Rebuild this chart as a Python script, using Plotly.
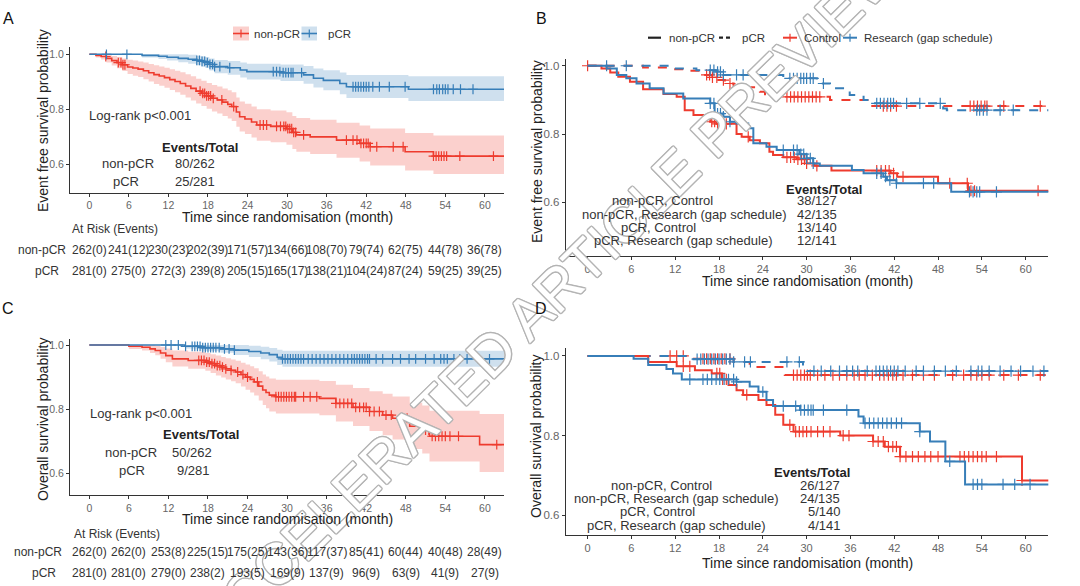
import numpy as np
import plotly.graph_objects as go

W, H = 1080, 586
T_END = 63.2
RED = '#EE3B2E'
BLUE = '#377EB8'
RED_FILL = 'rgba(238,59,46,0.24)'
BLUE_FILL = 'rgba(55,126,184,0.24)'
FONT = 'Liberation Sans'

# ---------------- Panel A : EFS by pCR ----------------
a_np_t = [0, 1.0, 1.8, 2.6, 3.4, 4.2, 5.0, 5.8, 6.6, 7.4, 8.2, 9.0, 9.8, 10.6, 11.4, 12.2, 13.0, 13.8, 14.6, 15.4,
          16.2, 17.0, 17.8, 18.6, 19.4, 20.2, 21.0, 21.6, 22.3, 22.8, 23.6, 24.6, 25.4, 27.5, 29.9, 30.8, 31.4, 33.5,
          37.5, 41.0, 42.6, 47.9, 52.2]
a_np_s = [1.0, 0.996, 0.992, 0.985, 0.977, 0.970, 0.962, 0.954, 0.950, 0.946, 0.940, 0.933, 0.926, 0.921, 0.915,
          0.908, 0.901, 0.894, 0.885, 0.876, 0.866, 0.858, 0.849, 0.840, 0.834, 0.826, 0.818, 0.81, 0.79, 0.773,
          0.765, 0.754, 0.743, 0.738, 0.730, 0.716, 0.707, 0.700, 0.688, 0.676, 0.664, 0.646, 0.630]
a_np_hi = [1.0, 1.0, 1.0, 0.998, 0.994, 0.99, 0.985, 0.98, 0.977, 0.974, 0.97, 0.965, 0.96, 0.956, 0.951, 0.946,
           0.94, 0.935, 0.927, 0.92, 0.911, 0.904, 0.896, 0.888, 0.883, 0.876, 0.869, 0.862, 0.843, 0.828, 0.82,
           0.81, 0.80, 0.796, 0.789, 0.776, 0.768, 0.762, 0.751, 0.741, 0.73, 0.714, 0.705]
a_np_lo = [1.0, 0.988, 0.981, 0.970, 0.959, 0.949, 0.939, 0.928, 0.922, 0.917, 0.909, 0.901, 0.892, 0.886, 0.878,
           0.870, 0.862, 0.853, 0.843, 0.832, 0.821, 0.812, 0.802, 0.792, 0.785, 0.776, 0.767, 0.758, 0.737, 0.719,
           0.71, 0.698, 0.686, 0.68, 0.671, 0.656, 0.646, 0.638, 0.624, 0.61, 0.596, 0.578, 0.565]
a_np_c = [2.5, 4.4, 4.8, 5.1, 5.4, 16.8, 17.2, 17.5, 17.8, 18.1, 18.4, 18.8, 20.1, 21.9, 25.9, 26.4, 26.9, 28.4, 29.0,
          29.5, 29.8, 30.1, 30.4, 30.7, 31.0, 31.3, 32.5, 39.0, 40.0, 40.6, 41.2, 41.6, 42.0, 42.3, 42.6, 43.6, 46.1,
          47.6, 52.2, 52.6, 53.0, 53.4, 53.8, 54.2, 56.2, 61.3]

a_p_t = [0, 8.0, 10.5, 11.8, 13.5, 15.0, 16.3, 17.0, 17.6, 18.2, 19.0, 21.0, 22.9, 23.9, 29.0, 32.5, 34.0, 35.5,
         38.0, 39.0, 48.4]
a_p_s = [1.0, 0.996, 0.993, 0.989, 0.985, 0.982, 0.978, 0.974, 0.970, 0.963, 0.955, 0.951, 0.943, 0.937, 0.933,
         0.925, 0.913, 0.905, 0.894, 0.882, 0.873]
a_p_hi = [1.0, 1.0, 1.0, 1.0, 1.0, 0.998, 0.995, 0.993, 0.99, 0.985, 0.979, 0.976, 0.97, 0.966, 0.963, 0.957,
          0.948, 0.942, 0.934, 0.925, 0.92]
a_p_lo = [1.0, 0.988, 0.983, 0.977, 0.971, 0.966, 0.96, 0.955, 0.95, 0.941, 0.931, 0.926, 0.916, 0.908, 0.903,
          0.893, 0.879, 0.869, 0.855, 0.841, 0.83]
a_p_c = [2.6, 5.7, 16.3, 16.7, 17.1, 17.5, 17.9, 18.3, 18.7, 19.0, 19.8, 21.3, 27.9, 28.4, 28.9, 29.4, 29.8, 30.2,
         30.6, 30.9, 32.2, 40.0, 40.4, 40.8, 41.2, 41.6, 42.0, 42.4, 43.0, 44.0, 45.5, 47.9, 52.2, 52.7, 53.1, 53.6,
         54.0, 54.4, 55.2, 56.3, 58.2]

# ---------------- Panel C : OS by pCR ----------------
c_np_t = [0, 6.0, 8.0, 9.2, 10.0, 10.8, 11.6, 12.6, 15.0, 17.6, 18.4, 19.2, 20.0, 20.7, 21.5, 22.2, 23.0, 23.7,
          24.4, 25.0, 25.7, 26.3, 26.8, 27.3, 28.3, 34.9, 37.4, 40.0, 42.5, 44.5, 46.0, 48.6, 50.5, 51.6, 59.2]
c_np_s = [1.0, 0.996, 0.993, 0.988, 0.983, 0.975, 0.967, 0.957, 0.952, 0.947, 0.942, 0.936, 0.931, 0.926, 0.921,
          0.916, 0.908, 0.900, 0.893, 0.885, 0.872, 0.860, 0.852, 0.844, 0.839, 0.834, 0.818, 0.806, 0.793, 0.782,
          0.772, 0.747, 0.735, 0.716, 0.690]
c_np_hi = [1.0, 1.0, 1.0, 1.0, 0.998, 0.994, 0.989, 0.983, 0.979, 0.975, 0.971, 0.967, 0.963, 0.959, 0.955, 0.951,
           0.945, 0.939, 0.934, 0.928, 0.918, 0.908, 0.902, 0.896, 0.892, 0.888, 0.876, 0.866, 0.856, 0.848, 0.84,
           0.82, 0.812, 0.795, 0.785]
c_np_lo = [1.0, 0.988, 0.983, 0.975, 0.968, 0.957, 0.946, 0.933, 0.926, 0.92, 0.913, 0.905, 0.899, 0.893, 0.887,
           0.881, 0.871, 0.861, 0.852, 0.843, 0.827, 0.813, 0.803, 0.793, 0.787, 0.781, 0.762, 0.748, 0.732, 0.719,
           0.706, 0.676, 0.662, 0.637, 0.605]
c_np_c = [16.6, 17.0, 17.4, 17.8, 18.2, 18.6, 19.0, 19.4, 19.8, 20.2, 20.7, 21.5, 22.5, 23.3, 24.0, 25.5, 28.3, 28.7,
          29.1, 29.5, 29.9, 30.3, 30.7, 31.1, 31.3, 32.5, 33.5, 34.5, 37.4, 38.0, 38.6, 39.2, 39.8, 40.4, 41.0, 41.6,
          42.0, 42.5, 43.2, 44.0, 45.0, 45.8, 47.5, 48.2, 51.0, 51.5, 52.0, 52.5, 53.0, 53.5, 54.0, 54.7, 56.0, 61.8]

c_p_t = [0, 14.5, 17.0, 19.9, 22.0, 24.2, 26.0, 27.3, 28.5, 29.3]
c_p_s = [1.0, 0.996, 0.992, 0.988, 0.984, 0.98, 0.975, 0.97, 0.962, 0.957]
c_p_hi = [1.0, 1.0, 1.0, 1.0, 1.0, 0.998, 0.995, 0.991, 0.985, 0.982]
c_p_lo = [1.0, 0.989, 0.982, 0.976, 0.969, 0.963, 0.956, 0.949, 0.938, 0.932]
c_p_c = [11.6, 12.4, 13.5, 14.6, 15.6, 16.0, 16.4, 16.8, 17.2, 17.6, 18.0, 18.4, 18.8, 19.2, 19.7, 20.5, 21.2, 22.0,
         29.3, 29.7, 30.1, 30.5, 30.9, 31.3, 31.7, 32.1, 32.5, 33.2, 33.8, 34.4, 35.0, 35.6, 36.2, 36.8, 37.4, 38.0,
         38.6, 39.2, 39.8, 40.2, 40.6, 41.0, 41.4, 41.8, 42.2, 42.5, 43.5, 44.5, 46.0, 47.2, 48.5, 49.5, 51.0, 52.3,
         53.3, 53.8, 54.3, 55.3, 56.2, 57.3, 59.0, 60.7]

# ---------------- Panel B : EFS by pCR x arm ----------------
b_npc_t = [0, 1.9, 3.1, 4.2, 5.8, 7.6, 10.4, 12.2, 13.3, 14.5, 15.8, 16.8, 17.7, 20.4, 21.1, 22.2, 23.6, 24.9, 25.4,
           26.8, 28.6, 30.0, 31.1, 33.4, 41.5, 42.4, 48.0, 52.1]
b_npc_s = [1.0, 0.992, 0.980, 0.968, 0.953, 0.931, 0.917, 0.909, 0.870, 0.856, 0.846, 0.836, 0.830, 0.800, 0.792,
           0.782, 0.773, 0.748, 0.739, 0.732, 0.726, 0.714, 0.707, 0.693, 0.685, 0.675, 0.656, 0.634]
b_npc_c = [17.0, 17.4, 17.8, 18.2, 18.6, 19.0, 22.0, 27.3, 27.8, 28.3, 28.8, 29.3, 29.7, 30.0, 31.4, 39.6, 40.2, 40.8,
           41.3, 41.9, 43.2, 49.6, 52.0, 52.5, 53.0, 61.7]
b_npr_t = [0, 2.6, 4.0, 5.3, 6.7, 8.5, 10.4, 13.1, 16.8, 17.4, 18.6, 19.5, 20.4, 22.0, 22.7, 24.5, 25.9, 29.0, 30.0,
           30.9, 31.8, 36.2, 37.8, 40.5, 41.0, 42.3, 49.8]
b_npr_s = [1.0, 0.992, 0.973, 0.963, 0.948, 0.934, 0.919, 0.904, 0.89, 0.86, 0.851, 0.836, 0.831, 0.817, 0.773,
           0.763, 0.753, 0.741, 0.729, 0.714, 0.707, 0.695, 0.685, 0.675, 0.665, 0.656, 0.631]
b_npr_c = [16.8, 17.3, 17.8, 18.2, 18.6, 19.5, 26.8, 28.2, 28.7, 29.2, 29.6, 30.0, 30.5, 30.9, 39.6, 40.2, 40.8,
           41.4, 42.3, 46.0, 47.4, 52.3, 52.8, 53.3, 53.7, 56.0]
b_pc_t = [0, 7.6, 11.7, 13.6, 15.6, 17.0, 17.9, 18.8, 20.0, 23.6, 24.3, 33.2, 38.7]
b_pc_s = [1.0, 0.995, 0.99, 0.985, 0.973, 0.966, 0.958, 0.948, 0.937, 0.924, 0.909, 0.9, 0.882]
b_pc_c = [0.0, 16.3, 16.7, 17.1, 17.7, 18.6, 19.5, 27.3, 27.8, 28.3, 28.8, 29.3, 29.8, 30.3, 30.8, 31.3, 31.8, 40.5,
          41.0, 41.5, 42.3, 52.4, 52.9, 53.4, 53.9, 54.4, 54.7, 57.0, 62.0]
b_pr_t = [0, 11.7, 14.9, 17.7, 18.6, 26.8, 31.4, 33.2, 35.9, 37.8, 38.7, 48.7, 49.2]
b_pr_s = [1.0, 0.992, 0.987, 0.982, 0.973, 0.963, 0.948, 0.934, 0.914, 0.9, 0.89, 0.875, 0.87]
b_pr_c = [2.6, 5.3, 16.8, 17.3, 17.8, 18.2, 18.6, 20.4, 21.3, 27.7, 28.2, 28.7, 29.2, 29.6, 30.0, 30.5, 30.9, 32.3,
          39.6, 40.1, 40.6, 41.1, 41.5, 41.9, 43.7, 45.5, 48.3, 53.3, 53.7, 54.2, 54.7, 56.5, 58.3]

# ---------------- Panel D : OS by pCR x arm ----------------
d_npc_t = [0, 8.3, 12.2, 14.7, 17.0, 18.4, 19.3, 20.4, 21.3, 23.4, 24.5, 25.7, 26.8, 28.2, 34.6, 39.1, 40.7, 42.8, 59.5]
d_npc_s = [1.0, 0.985, 0.974, 0.964, 0.956, 0.941, 0.927, 0.914, 0.902, 0.889, 0.877, 0.852, 0.827, 0.81, 0.8,
           0.785, 0.772, 0.747, 0.687]
d_npc_c = [13.1, 14.0, 17.7, 18.1, 18.5, 19.0, 21.8, 27.7, 28.5, 29.0, 29.5, 30.0, 30.6, 31.5, 32.3, 33.2, 35.0, 35.8,
           39.1, 39.8, 40.5, 41.2, 41.8, 42.3, 42.8, 43.6, 44.5, 45.3, 46.2, 47.0, 48.0, 51.0, 51.6, 52.2, 52.8, 53.4,
           54.0, 54.6, 56.0, 59.5]
d_npr_t = [0, 6.3, 8.3, 10.8, 11.7, 12.9, 20.4, 22.2, 23.4, 24.5, 25.4, 29.1, 37.1, 37.8, 45.5, 46.9, 49.0, 51.7]
d_npr_s = [1.0, 0.993, 0.977, 0.967, 0.956, 0.941, 0.935, 0.923, 0.91, 0.889, 0.874, 0.864, 0.848, 0.831, 0.81,
           0.785, 0.735, 0.677]
d_npr_c = [14.0, 15.8, 16.4, 17.0, 17.6, 18.1, 18.7, 19.3, 20.0, 20.4, 24.0, 26.8, 28.5, 29.2, 29.7, 30.2, 30.6, 30.9,
           32.3, 35.5, 38.0, 38.6, 39.2, 39.8, 40.4, 41.0, 41.6, 42.3, 43.0, 45.5, 49.6, 52.8, 53.4, 54.0, 56.9, 58.5,
           60.6]
d_pc_t = [0, 13.6, 20.0, 22.2, 27.0]
d_pc_s = [1.0, 0.993, 0.985, 0.972, 0.952]
d_pc_c = [11.3, 12.2, 13.1, 15.8, 16.3, 16.8, 17.3, 17.8, 18.3, 18.8, 19.5, 28.2, 28.7, 29.2, 29.7, 30.1, 30.5, 31.5,
          32.5, 33.6, 34.5, 35.5, 36.5, 37.2, 38.0, 39.0, 40.0, 40.6, 41.2, 41.8, 42.3, 43.2, 44.5, 46.0, 47.5, 50.0,
          51.5, 52.5, 53.3, 54.0, 55.0, 57.0, 59.0, 62.0]
d_pr_t = [0, 14.5, 20.0, 29.5, 30.0]
d_pr_s = [1.0, 0.992, 0.985, 0.972, 0.962]
d_pr_c = [15.0, 15.5, 16.0, 16.5, 17.0, 17.5, 18.0, 18.5, 19.0, 19.5, 20.0, 21.5, 22.3, 27.3, 29.0, 31.0, 32.0, 33.3,
          34.5, 35.5, 36.3, 37.0, 38.3, 39.5, 40.0, 40.5, 41.0, 41.5, 42.0, 42.5, 43.5, 45.0, 46.0, 47.5, 49.0, 50.5,
          52.5, 53.5, 54.0, 55.0, 56.5, 58.0, 59.3, 61.0, 62.5]

# ---------------- Tables ----------------
risk_times = [0, 6, 12, 18, 24, 30, 36, 42, 48, 54, 60]
a_risk_np_n = [262, 241, 230, 202, 171, 134, 108, 79, 62, 44, 36]
a_risk_np_e = [0, 12, 23, 39, 57, 66, 70, 74, 75, 78, 78]
a_risk_p_n = [281, 275, 272, 239, 205, 165, 138, 104, 87, 59, 39]
a_risk_p_e = [0, 0, 3, 8, 15, 17, 21, 24, 24, 25, 25]
c_risk_np_n = [262, 262, 253, 225, 175, 143, 117, 85, 60, 40, 28]
c_risk_np_e = [0, 0, 8, 15, 25, 36, 37, 41, 44, 48, 49]
c_risk_p_n = [281, 281, 279, 238, 193, 169, 137, 96, 63, 41, 27]
c_risk_p_e = [0, 0, 0, 2, 5, 9, 9, 9, 9, 9, 9]

ab_groups = ['non-pCR', 'pCR']
a_events = ['80/262', '25/281']
c_events = ['50/262', '9/281']
bd_groups = ['non-pCR, Control', 'non-pCR, Research (gap schedule)', 'pCR, Control', 'pCR, Research (gap schedule)']
b_events = ['38/127', '42/135', '13/140', '12/141']
d_events = ['26/127', '24/135', '5/140', '4/141']

fig = go.Figure()


def band(xa, ya, t, lo, hi, fill):
    tx = list(t) + [T_END]
    fig.add_trace(go.Scatter(x=tx, y=list(lo) + [lo[-1]], mode='lines', line=dict(width=0, shape='hv'),
                             xaxis=xa, yaxis=ya, showlegend=False, hoverinfo='skip'))
    fig.add_trace(go.Scatter(x=tx, y=list(hi) + [hi[-1]], mode='lines', line=dict(width=0, shape='hv'),
                             fill='tonexty', fillcolor=fill, xaxis=xa, yaxis=ya, showlegend=False,
                             hoverinfo='skip'))


def km(xa, ya, t, s, cens, color, dash='solid', width=1.6, msize=8):
    tx = list(t) + [T_END]
    fig.add_trace(go.Scatter(x=tx, y=list(s) + [s[-1]], mode='lines',
                             line=dict(color=color, width=width, dash=dash, shape='hv'),
                             xaxis=xa, yaxis=ya, showlegend=False))
    ta, sa = np.array(t), np.array(s)
    idx = np.searchsorted(ta, np.array(cens), side='right') - 1
    fig.add_trace(go.Scatter(x=cens, y=sa[idx], mode='markers',
                             marker=dict(symbol='cross-thin', size=msize, color=color,
                                         line=dict(color=color, width=1.2)),
                             xaxis=xa, yaxis=ya, showlegend=False))


# A
band('x', 'y', a_np_t, a_np_lo, a_np_hi, RED_FILL)
band('x', 'y', a_p_t, a_p_lo, a_p_hi, BLUE_FILL)
km('x', 'y', a_np_t, a_np_s, a_np_c, RED, msize=7)
km('x', 'y', a_p_t, a_p_s, a_p_c, BLUE, msize=7)
# C
band('x3', 'y3', c_np_t, c_np_lo, c_np_hi, RED_FILL)
band('x3', 'y3', c_p_t, c_p_lo, c_p_hi, BLUE_FILL)
km('x3', 'y3', c_np_t, c_np_s, c_np_c, RED, msize=7)
km('x3', 'y3', c_p_t, c_p_s, c_p_c, BLUE, msize=7)
# B
km('x2', 'y2', b_pc_t, b_pc_s, b_pc_c, RED, dash='dash', width=2)
km('x2', 'y2', b_pr_t, b_pr_s, b_pr_c, BLUE, dash='dash', width=2)
km('x2', 'y2', b_npc_t, b_npc_s, b_npc_c, RED, width=2)
km('x2', 'y2', b_npr_t, b_npr_s, b_npr_c, BLUE, width=2)
# D
km('x4', 'y4', d_pc_t, d_pc_s, d_pc_c, RED, dash='dash', width=2)
km('x4', 'y4', d_pr_t, d_pr_s, d_pr_c, BLUE, dash='dash', width=2)
km('x4', 'y4', d_npc_t, d_npc_s, d_npc_c, RED, width=2)
km('x4', 'y4', d_npr_t, d_npr_s, d_npr_c, BLUE, width=2)


def px(x):
    return x / W


def py(y):
    return 1 - y / H


def xax(dom, rng, anchor, fs):
    return dict(domain=[px(dom[0]), px(dom[1])], range=rng, anchor=anchor, tickvals=risk_times,
                showline=True, linecolor='#333', linewidth=1, ticks='outside', ticklen=3,
                tickcolor='#333', showgrid=False, zeroline=False,
                tickfont=dict(size=fs, color='#666', family=FONT))


def yax(dom, rng, anchor, fs):
    return dict(domain=[py(dom[1]), py(dom[0])], range=rng, anchor=anchor, tickvals=[0.6, 0.8, 1.0],
                ticktext=['0.6', '0.8', '1.0'], showline=True, linecolor='#333', linewidth=1,
                ticks='outside', ticklen=3, tickcolor='#333', showgrid=False, zeroline=False,
                tickfont=dict(size=fs, color='#666', family=FONT))


ann = []

# watermark first so that every other text is drawn above it
sh = '#b4b4b4'
shadow = ', '.join(f'{dx}px {dy}px 0 {sh}' for dx, dy in
                   [(1.4, 0), (-1.4, 0), (0, 1.4), (0, -1.4), (1, 1), (-1, -1), (1, -1), (-1, 1)])
ann.append(dict(x=px(547), y=py(297), xref='paper', yref='paper', text='ACCELERATED ARTICLE PREVIEW',
                showarrow=False, textangle=-44.5, xanchor='center', yanchor='middle',
                font=dict(size=58, color='white', family=FONT, shadow=shadow)))


def t(x, y, text, size=13, color='#333', xa='left', bold=False, angle=0, xref='paper'):
    ann.append(dict(x=px(x) if xref == 'paper' else x, y=py(y), xref=xref, yref='paper', text=text,
                    showarrow=False, xanchor=xa, yanchor='middle', textangle=angle,
                    font=dict(size=size, color=color, family=FONT, weight='bold' if bold else 'normal')))


# panel letters
for lx, ly, lab in [(8, 18, 'A'), (541, 18, 'B'), (8, 308, 'C'), (541, 308, 'D')]:
    t(lx, ly, lab, size=16, color='#111', xa='center')

# axis titles
t(43, 121, 'Event free survival probability', 14, '#222', 'center', angle=-90)
t(287, 216.5, 'Time since randomisation (month)', 14, '#222', 'center')
t(537, 152, 'Event free survival probability', 14, '#222', 'center', angle=-90)
t(807, 280.5, 'Time since randomisation (month)', 14, '#222', 'center')
t(43, 420, 'Overall survival probability', 14, '#222', 'center', angle=-90)
t(287, 519, 'Time since randomisation (month)', 14, '#222', 'center')
t(536, 437, 'Overall survival probability', 14, '#222', 'center', angle=-90)
t(807, 562.5, 'Time since randomisation (month)', 14, '#222', 'center')

# A/C in-plot texts
t(87, 115, 'Log-rank p<0.001', 13)
t(200, 147.5, 'Events/Total', 13, '#222', 'center', bold=True)
t(128, 163.5, ab_groups[0], 13, '#333', 'center')
t(126, 181, ab_groups[1], 13, '#333', 'center')
t(194.5, 163.5, a_events[0], 13, '#333', 'center')
t(194.5, 181, a_events[1], 13, '#333', 'center')

t(88, 413, 'Log-rank p<0.001', 13)
t(201, 434, 'Events/Total', 13, '#222', 'center', bold=True)
t(131, 452.5, ab_groups[0], 13, '#333', 'center')
t(131.5, 470, ab_groups[1], 13, '#333', 'center')
t(192.5, 452.5, c_events[0], 13, '#333', 'center')
t(193.5, 470, c_events[1], 13, '#333', 'center')

# B/D events tables
b_lab_x = [662, 684, 658, 682.5]
b_row_y = [200.7, 214, 227.3, 240]
t(824, 189, 'Events/Total', 13, '#222', 'center', bold=True)
for i in range(4):
    t(b_lab_x[i], b_row_y[i], bd_groups[i], 13, '#333', 'center')
    t(817, b_row_y[i], b_events[i], 13, '#333', 'center')
d_lab_x = [661.7, 676.8, 657.5, 675.7]
d_val_x = [820, 820, 824.7, 824.7]
d_row_y = [485, 498.3, 511.5, 525.3]
t(812, 472.7, 'Events/Total', 13, '#222', 'center', bold=True)
for i in range(4):
    t(d_lab_x[i], d_row_y[i], bd_groups[i], 13, '#333', 'center')
    t(d_val_x[i], d_row_y[i], d_events[i], 13, '#333', 'center')

# risk tables
t(70, 229, 'At Risk (Events)', 12, '#333')
t(68, 250, ab_groups[0], 12, '#333', 'right')
t(61, 271, ab_groups[1], 12, '#333', 'right')
for i, rt in enumerate(risk_times):
    t(rt, 250, f'{a_risk_np_n[i]}({a_risk_np_e[i]})', 12, '#333', 'center', xref='x')
    t(rt, 271, f'{a_risk_p_n[i]}({a_risk_p_e[i]})', 12, '#333', 'center', xref='x')
t(72, 533.5, 'At Risk (Events)', 12, '#333')
t(64, 552, ab_groups[0], 12, '#333', 'right')
t(58, 573, ab_groups[1], 12, '#333', 'right')
for i, rt in enumerate(risk_times):
    t(rt, 552, f'{c_risk_np_n[i]}({c_risk_np_e[i]})', 12, '#333', 'center', xref='x3')
    t(rt, 573, f'{c_risk_p_n[i]}({c_risk_p_e[i]})', 12, '#333', 'center', xref='x3')

# legends (manual)
shapes = []


def rect(x0, y0, x1, y1, fill):
    shapes.append(dict(type='rect', xref='paper', yref='paper', x0=px(x0), x1=px(x1), y0=py(y1), y1=py(y0),
                       fillcolor=fill, line=dict(width=0), layer='below'))


def seg(x0, y0, x1, y1, color, width=1.6, dash='solid'):
    shapes.append(dict(type='line', xref='paper', yref='paper', x0=px(x0), x1=px(x1), y0=py(y0), y1=py(y1),
                       line=dict(color=color, width=width, dash=dash)))


rect(233, 26.5, 249, 40.5, RED_FILL)
seg(233, 33.5, 249, 33.5, RED)
seg(241, 29.5, 241, 37.5, RED, 1.2)
t(252, 33.5, ab_groups[0], 11.5, '#333')
rect(301.5, 26.5, 317, 40.5, BLUE_FILL)
seg(301.5, 33.5, 317, 33.5, BLUE)
seg(309.3, 29.5, 309.3, 37.5, BLUE, 1.2)
t(326, 33.5, ab_groups[1], 11.5, '#333')

LY = 37.7
seg(648, LY, 661, LY, '#222', 2.2)
t(667, LY, 'non-pCR', 11.5, '#333')
seg(719, LY, 732, LY, '#222', 2.2, '4px,3px')
t(740, LY, 'pCR', 11.5, '#333')
seg(783, LY, 797, LY, RED, 2)
seg(790, LY - 4, 790, LY + 4, RED, 1.2)
t(801.5, LY, 'Control', 11.5, '#333')
seg(843, LY, 857, LY, BLUE, 2)
seg(850, LY - 4, 850, LY + 4, BLUE, 1.2)
t(862, LY, 'Research (gap schedule)', 11.5, '#333')

fig.update_layout(
    width=W, height=H, margin=dict(l=0, r=0, t=0, b=0),
    paper_bgcolor='white', plot_bgcolor='white', showlegend=False,
    font=dict(family=FONT),
    xaxis=xax((70, 504), [-2.93, 62.9], 'y', 10.5),
    yaxis=yax((47.4, 192.7), [0.497, 1.025], 'x', 10.5),
    xaxis2=xax((565.7, 1048.3), [-3.0, 63.1], 'y2', 11),
    yaxis2=yax((58.9, 256), [0.443, 1.02], 'x2', 11.5),
    xaxis3=xax((70, 504), [-2.93, 62.9], 'y3', 10.5),
    yaxis3=yax((338.6, 495), [0.533, 1.02], 'x3', 10.5),
    xaxis4=xax((565.7, 1048.3), [-3.0, 63.1], 'y4', 11),
    yaxis4=yax((348, 535), [0.55, 1.02], 'x4', 11.5),
    annotations=ann, shapes=shapes,
)

fig.write_html('out.html', config={'displayModeBar': False},
               post_script="document.body.style.margin='0px';document.body.style.overflow='hidden';")
